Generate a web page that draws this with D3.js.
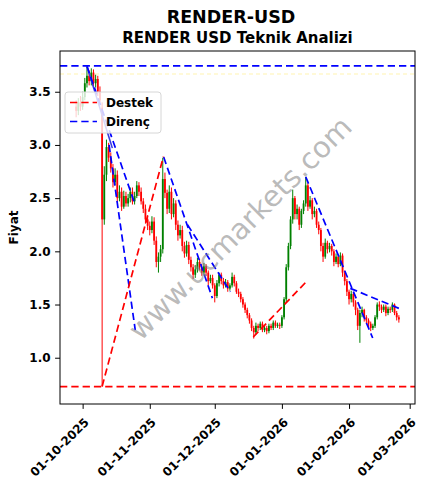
<!DOCTYPE html>
<html>
<head>
<meta charset="utf-8">
<script src="https://cdn.jsdelivr.net/npm/d3@7"></script>
<style>
body { margin: 0; background: #fff; }
text { font-family: "DejaVu Sans", sans-serif; }
</style>
</head>
<body>
<svg id="chart"></svg>
<script>
var WIDTH = 427;
var HEIGHT = 489;
var LEFT = 60, RIGHT = 415, TOP = 51, BOTTOM = 404;

// daily candles, first one on startDate
var startDate = '2025-09-28';
var opens = [3.36,3.32,3.40,3.36,3.45,3.58,3.65,3.60,3.68,3.58,3.62,3.50,3.35,2.30,2.72,2.98,2.88,2.78,2.65,2.72,
  2.50,2.56,2.42,2.52,2.45,2.50,2.56,2.47,2.52,2.62,2.56,2.47,2.40,2.30,2.24,2.20,2.28,2.10,1.90,1.95,
  2.02,2.68,2.55,2.40,2.56,2.35,2.45,2.25,2.15,2.20,2.05,1.98,2.06,1.92,1.85,1.78,1.83,1.90,1.85,1.80,
  1.86,1.80,1.72,1.75,1.68,1.58,1.70,1.78,1.72,1.68,1.71,1.65,1.68,1.76,1.70,1.62,1.60,1.55,1.50,1.45,
  1.40,1.35,1.28,1.24,1.30,1.28,1.32,1.26,1.28,1.25,1.30,1.28,1.33,1.30,1.31,1.30,1.38,1.55,1.85,2.05,
  2.30,2.50,2.35,2.40,2.25,2.38,2.45,2.62,2.42,2.48,2.35,2.38,2.25,2.20,2.05,1.95,2.08,2.02,2.05,2.00,
  1.90,1.95,1.88,1.96,1.80,1.72,1.62,1.55,1.60,1.52,1.45,1.30,1.42,1.45,1.38,1.35,1.32,1.28,1.30,1.38,
  1.50,1.48,1.45,1.48,1.42,1.46,1.45,1.50,1.42,1.38];
var highs = [3.42,3.44,3.46,3.50,3.63,3.74,3.70,3.72,3.71,3.66,3.65,3.55,3.40,2.80,3.05,3.02,2.93,2.82,2.78,2.76,
  2.62,2.60,2.57,2.56,2.54,2.60,2.60,2.56,2.66,2.65,2.60,2.50,2.44,2.34,2.28,2.33,2.32,2.14,1.99,2.06,
  2.88,2.74,2.58,2.62,2.60,2.50,2.48,2.29,2.25,2.24,2.09,2.10,2.09,1.95,1.88,1.87,1.94,1.93,1.88,1.89,
  1.88,1.82,1.78,1.78,1.70,1.73,1.80,1.80,1.75,1.74,1.73,1.70,1.80,1.78,1.72,1.65,1.62,1.57,1.52,1.47,
  1.42,1.37,1.30,1.33,1.32,1.34,1.34,1.30,1.30,1.32,1.32,1.35,1.35,1.33,1.33,1.40,1.57,1.88,2.08,2.33,
  2.58,2.52,2.44,2.42,2.40,2.48,2.70,2.64,2.52,2.50,2.42,2.40,2.28,2.22,2.08,2.12,2.10,2.08,2.07,2.02,
  1.98,1.97,1.99,1.98,1.82,1.74,1.64,1.63,1.62,1.54,1.47,1.45,1.48,1.46,1.40,1.37,1.34,1.32,1.40,1.52,
  1.53,1.50,1.50,1.50,1.48,1.48,1.52,1.51,1.44,1.40];
var lows = [3.26,3.28,3.32,3.33,3.42,3.54,3.56,3.56,3.54,3.54,3.46,3.40,0.73,2.25,2.66,2.84,2.74,2.60,2.62,2.46,
  2.47,2.38,2.40,2.42,2.42,2.46,2.44,2.44,2.50,2.52,2.44,2.36,2.26,2.20,2.15,2.17,2.06,1.85,1.80,1.90,
  1.98,2.50,2.35,2.36,2.30,2.32,2.20,2.10,2.12,2.00,1.94,1.95,1.88,1.81,1.74,1.75,1.80,1.82,1.77,1.78,
  1.77,1.68,1.70,1.65,1.52,1.56,1.67,1.69,1.65,1.66,1.62,1.63,1.66,1.67,1.60,1.57,1.52,1.47,1.42,1.37,
  1.32,1.25,1.18,1.22,1.25,1.26,1.24,1.24,1.22,1.23,1.26,1.26,1.28,1.28,1.27,1.28,1.36,1.52,1.82,2.02,
  2.26,2.30,2.30,2.20,2.22,2.35,2.42,2.38,2.40,2.30,2.32,2.22,2.16,2.00,1.90,1.93,1.98,1.99,1.96,1.86,
  1.88,1.85,1.86,1.76,1.68,1.58,1.50,1.52,1.48,1.40,1.26,1.14,1.38,1.34,1.32,1.28,1.25,1.26,1.28,1.36,
  1.44,1.42,1.43,1.39,1.40,1.42,1.43,1.40,1.35,1.33];
var closes = [3.32,3.40,3.36,3.45,3.58,3.65,3.60,3.68,3.58,3.62,3.50,3.42,2.30,2.72,2.98,2.88,2.78,2.65,2.72,2.50,
  2.56,2.42,2.52,2.45,2.50,2.56,2.47,2.52,2.62,2.56,2.47,2.40,2.30,2.24,2.20,2.28,2.10,1.90,1.95,2.02,
  2.68,2.55,2.40,2.56,2.35,2.45,2.25,2.15,2.20,2.05,1.98,2.06,1.92,1.85,1.78,1.83,1.90,1.85,1.80,1.86,
  1.80,1.72,1.75,1.68,1.58,1.70,1.78,1.72,1.68,1.71,1.65,1.68,1.76,1.70,1.62,1.60,1.55,1.50,1.45,1.40,
  1.35,1.28,1.24,1.30,1.28,1.32,1.26,1.28,1.25,1.30,1.28,1.33,1.30,1.31,1.30,1.38,1.55,1.85,2.05,2.30,
  2.50,2.35,2.40,2.25,2.38,2.45,2.62,2.42,2.48,2.35,2.38,2.25,2.20,2.05,1.95,2.08,2.02,2.05,2.00,1.90,
  1.95,1.88,1.96,1.80,1.72,1.62,1.55,1.60,1.52,1.45,1.30,1.42,1.45,1.38,1.35,1.32,1.28,1.30,1.38,1.50,
  1.48,1.45,1.48,1.42,1.46,1.45,1.50,1.42,1.38,1.36];

var supportLevel = 0.729;
var resistanceLevel = 3.744;
// trend lines: [start, value, end, value]
var supportLines = [
  ['2025-10-10T00:00', 0.73, '2025-11-07T07:00', 2.89],
  ['2025-12-18T19:00', 1.195, '2026-01-13T00:00', 1.73]
];
var resistanceLines = [
  ['2025-10-03T00:00', 3.74, '2025-10-24T17:00', 2.47],
  ['2025-10-13T05:00', 3.00, '2025-10-25T07:00', 1.26],
  ['2025-11-07T10:00', 2.886, '2025-11-29T22:00', 1.56],
  ['2025-11-18T10:00', 2.25, '2025-12-08T05:00', 1.62],
  ['2026-01-12T00:00', 2.70, '2026-02-11T22:00', 1.185],
  ['2026-02-01T14:00', 1.652, '2026-02-24T00:00', 1.464]
];
var steepLines = [
  ['2025-10-03T00:00', 3.74, '2025-10-14T17:00', 2.97]
];
var yTicks = [1.0, 1.5, 2.0, 2.5, 3.0, 3.5];
var xTicks = ['2025-10-01T00:00', '2025-11-01T00:00', '2025-12-01T00:00', '2026-01-01T00:00', '2026-02-01T00:00', '2026-03-01T00:00'];
var legendItems = [{label: 'Destek', color: 'red'}, {label: 'Direnç', color: 'blue'}];

var parseTime = d3.timeParse('%Y-%m-%dT%H:%M');
var first = d3.timeParse('%Y-%m-%d')(startDate);
var candles = closes.map(function(c, i) {
  return {date: d3.timeDay.offset(first, i), open: opens[i], high: highs[i], low: lows[i], close: c};
});

var svg = d3.select('#chart')
  .attr('width', WIDTH)
  .attr('height', HEIGHT);

var t0 = candles[0].date, t1 = candles[candles.length - 1].date;
var pad = (t1 - t0) * 0.05;
var xScale = d3.scaleTime()
  .domain([new Date(+t0 - pad), new Date(+t1 + pad)])
  .range([LEFT, RIGHT]);
var yScale = d3.scaleLinear()
  .domain([0.565, 3.883])
  .range([BOTTOM, TOP]);

svg.append('defs').append('clipPath').attr('id', 'clip')
  .append('rect').attr('x', LEFT).attr('y', TOP).attr('width', RIGHT - LEFT).attr('height', BOTTOM - TOP);

var plot = svg.append('g').attr('clip-path', 'url(#clip)');

// faint line under resistance
plot.append('line')
  .attr('x1', LEFT).attr('x2', RIGHT)
  .attr('y1', yScale(3.667)).attr('y2', yScale(3.667))
  .attr('stroke', '#fff3b0').attr('stroke-width', 1.2).attr('stroke-dasharray', '4,3');

// candles
var cg = plot.append('g');
cg.selectAll('line.wick')
  .data(candles)
  .enter()
  .append('line')
  .attr('class', 'wick')
  .attr('x1', function(d) { return xScale(d.date); })
  .attr('x2', function(d) { return xScale(d.date); })
  .attr('y1', function(d) { return yScale(d.high); })
  .attr('y2', function(d) { return yScale(d.low); })
  .attr('stroke', function(d) { return d.close >= d.open ? 'green' : 'red'; })
  .attr('stroke-width', 1);
cg.selectAll('rect.body')
  .data(candles)
  .enter()
  .append('rect')
  .attr('class', 'body')
  .attr('x', function(d) { return xScale(d.date) - 0.9; })
  .attr('width', 1.8)
  .attr('y', function(d) { return yScale(Math.max(d.open, d.close)); })
  .attr('height', function(d) { return Math.max(0.8, Math.abs(yScale(d.open) - yScale(d.close))); })
  .attr('fill', function(d) { return d.close >= d.open ? 'green' : 'red'; });

// horizontal levels
plot.append('line')
  .attr('x1', LEFT).attr('x2', RIGHT)
  .attr('y1', yScale(resistanceLevel)).attr('y2', yScale(resistanceLevel))
  .attr('stroke', 'blue').attr('stroke-width', 1.7).attr('stroke-dasharray', '7.3,4');
plot.append('line')
  .attr('x1', LEFT).attr('x2', RIGHT)
  .attr('y1', yScale(supportLevel)).attr('y2', yScale(supportLevel))
  .attr('stroke', 'red').attr('stroke-width', 1.7).attr('stroke-dasharray', '7.3,4');

var drawLines = function(list, color, dash, width) {
  plot.append('g').selectAll('line')
    .data(list)
    .enter()
    .append('line')
    .attr('x1', function(d) { return xScale(parseTime(d[0])); })
    .attr('y1', function(d) { return yScale(d[1]); })
    .attr('x2', function(d) { return xScale(parseTime(d[2])); })
    .attr('y2', function(d) { return yScale(d[3]); })
    .attr('stroke', color)
    .attr('stroke-width', width)
    .attr('stroke-dasharray', dash);
};
drawLines(steepLines, '#3a3ae0', null, 1.6);
drawLines(resistanceLines, 'blue', '7.3,4', 1.7);
drawLines(supportLines, 'red', '7.3,4', 1.7);

// watermark
svg.append('text')
  .attr('transform', 'translate(240,228) rotate(-45)')
  .attr('text-anchor', 'middle')
  .attr('dy', '0.35em')
  .attr('font-size', 29)
  .attr('fill', '#808080')
  .attr('fill-opacity', 0.55)
  .text('www.ucmarkets.com');

// legend
var lg = svg.append('g');
lg.append('rect')
  .attr('x', 65).attr('y', 92).attr('width', 96).attr('height', 41)
  .attr('rx', 3)
  .attr('fill', '#fff').attr('fill-opacity', 0.8)
  .attr('stroke', '#d6d6d6').attr('stroke-width', 1);
legendItems.forEach(function(item, i) {
  var y = 102.5 + i * 19;
  lg.append('line')
    .attr('x1', 70).attr('x2', 97).attr('y1', y).attr('y2', y)
    .attr('stroke', item.color).attr('stroke-width', 1.7).attr('stroke-dasharray', '7.3,4');
  lg.append('text')
    .attr('x', 106).attr('y', y).attr('dy', '0.35em')
    .attr('font-size', 12).attr('font-weight', 'bold')
    .text(item.label);
});

// frame
svg.append('rect')
  .attr('x', LEFT).attr('y', TOP).attr('width', RIGHT - LEFT).attr('height', BOTTOM - TOP)
  .attr('fill', 'none').attr('stroke', '#000').attr('stroke-width', 1);

// axes
var leftAxis = d3.axisLeft(yScale)
  .tickValues(yTicks)
  .tickFormat(d3.format('.1f'))
  .tickSize(4.9)
  .tickPadding(4.5);
var gy = svg.append('g')
  .attr('transform', 'translate(' + LEFT + ',0)')
  .call(leftAxis);
gy.select('.domain').remove();
gy.selectAll('text')
  .attr('font-size', 12).attr('font-weight', 'bold')
  .attr('font-family', '"DejaVu Sans", sans-serif').attr('fill', '#000');

var bottomAxis = d3.axisBottom(xScale)
  .tickValues(xTicks.map(parseTime))
  .tickFormat(d3.timeFormat('%d-%m-%Y'))
  .tickSize(4.9);
var gx = svg.append('g')
  .attr('transform', 'translate(0,' + BOTTOM + ')')
  .call(bottomAxis);
gx.select('.domain').remove();
gx.selectAll('text')
  .attr('font-size', 12).attr('font-weight', 'bold')
  .attr('font-family', '"DejaVu Sans", sans-serif').attr('fill', '#000')
  .attr('text-anchor', 'end')
  .attr('y', 0).attr('dy', 0)
  .attr('transform', 'translate(6.5,19) rotate(-45)');

// titles
svg.append('text')
  .attr('x', 231).attr('y', 23.3)
  .attr('text-anchor', 'middle')
  .attr('font-size', 17.5).attr('font-weight', 'bold')
  .text('RENDER-USD');
svg.append('text')
  .attr('x', 237.5).attr('y', 42.7)
  .attr('text-anchor', 'middle')
  .attr('font-size', 15).attr('font-weight', 'bold')
  .text('RENDER USD Teknik Analizi');
svg.append('text')
  .attr('transform', 'translate(18,227.5) rotate(-90)')
  .attr('text-anchor', 'middle')
  .attr('font-size', 12).attr('font-weight', 'bold')
  .text('Fiyat');
</script>
</body>
</html>
